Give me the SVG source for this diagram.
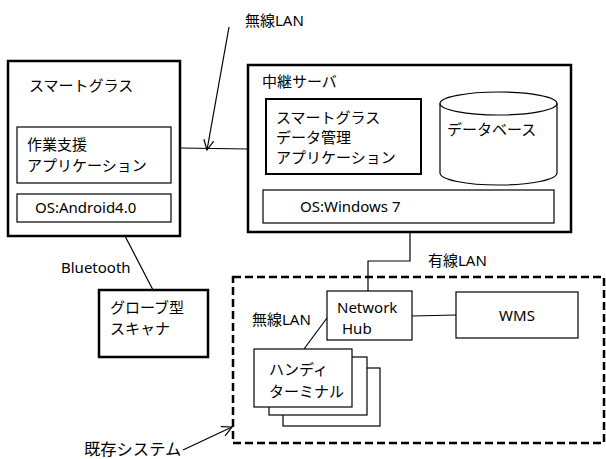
<svg xmlns="http://www.w3.org/2000/svg" width="606" height="459" viewBox="0 0 606 459">
<defs>
<style>
text{font-family:"Noto Sans","Noto Sans CJK JP",sans-serif;font-size:15px;fill:#000}
.thick{fill:#fff;stroke:#000;stroke-width:2.5}
.mid{fill:#fff;stroke:#000;stroke-width:2}
.thin{fill:#fff;stroke:#000;stroke-width:1.2}
.ln{fill:none;stroke:#000;stroke-width:1.2}
</style>
<marker id="arr" viewBox="0 0 12 12" refX="11" refY="6" markerWidth="12" markerHeight="12" markerUnits="userSpaceOnUse" orient="auto">
<path d="M1,1 L11,6 L1,11" fill="none" stroke="#000" stroke-width="1.2"/>
</marker>
</defs>
<rect width="606" height="459" fill="#fff"/>
<g id="existing-system">
<rect x="233" y="277" width="371" height="166" fill="none" stroke="#000" stroke-width="2.5" stroke-dasharray="8,4"/>
<text x="252" y="325">無線LAN</text>
</g>
<g id="connectors">
<line class="ln" x1="180" y1="148" x2="248" y2="149"/>
<line class="ln" x1="229" y1="27" x2="207" y2="150" marker-end="url(#arr)"/>
<polyline class="ln" points="410,232 410,261 368,261 368,291"/>
<line class="ln" x1="412" y1="316" x2="456" y2="315"/>
<line class="ln" x1="327" y1="318" x2="304" y2="349"/>
<line class="ln" x1="125" y1="236" x2="153" y2="290"/>
<line class="ln" x1="183" y1="450" x2="232" y2="427" marker-end="url(#arr)"/>
<text x="245" y="26">無線LAN</text>
<text x="428" y="266">有線LAN</text>
<text x="61" y="273">Bluetooth</text>
</g>
<g id="smart-glass">
<rect class="thick" x="8" y="61" width="172" height="175"/>
<text x="29" y="91">スマートグラス</text>
<rect class="thin" x="17" y="127" width="154" height="56"/>
<text x="27" y="150">作業支援</text>
<text x="27" y="171">アプリケーション</text>
<rect class="thin" x="17" y="194" width="154" height="28"/>
<text x="35" y="213">OS:Android4.0</text>
</g>
<g id="relay-server">
<rect class="thick" x="248" y="65" width="323" height="167"/>
<text x="262" y="87">中継サーバ</text>
<rect class="mid" x="266" y="99" width="155" height="75"/>
<text x="276" y="123">スマートグラス</text>
<text x="276" y="143">データ管理</text>
<text x="276" y="163">アプリケーション</text>
<path class="thin" d="M440,103.5 L440,173 A58.5,12 0 0 0 557,173 L557,103.5 A58.5,11.5 0 0 0 440,103.5 Z"/>
<path class="ln" d="M440,103.5 A58.5,11.5 0 0 0 557,103.5"/>
<text x="447" y="135">データベース</text>
<rect class="thin" x="263" y="190" width="291" height="33"/>
<text x="300" y="212">OS:Windows 7</text>
</g>
<g id="glove-scanner">
<rect class="thick" x="99" y="290" width="109" height="67"/>
<text x="110" y="313">グローブ型</text>
<text x="110" y="334">スキャナ</text>
</g>
<g id="network-hub">
<rect class="thin" x="327" y="291" width="85" height="49"/>
<text x="337" y="313">Network</text>
<text x="342" y="334">Hub</text>
</g>
<g id="wms">
<rect class="thin" x="456" y="292" width="122" height="46"/>
<text x="517" y="321" text-anchor="middle">WMS</text>
</g>
<g id="handy-terminal">
<rect class="thin" x="283" y="368" width="97" height="58"/>
<rect class="thin" x="269" y="357" width="98" height="58"/>
<rect class="thin" x="254" y="349" width="98" height="58"/>
<text x="269" y="375">ハンディ</text>
<text x="269" y="397">ターミナル</text>
</g>
<g id="label-existing">
<text x="84" y="455" style="font-size:16.3px">既存システム</text>
</g>
</svg>
